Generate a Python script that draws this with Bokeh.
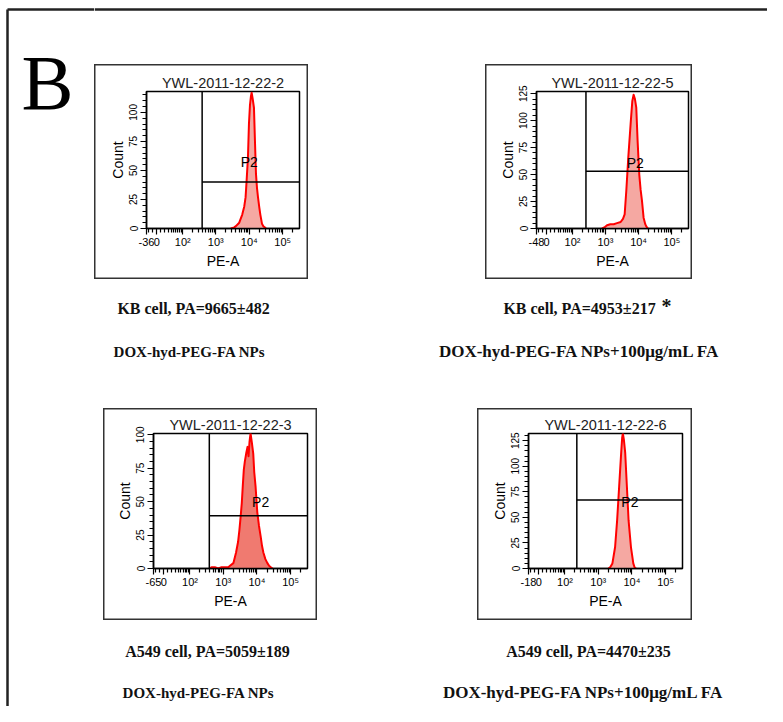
import numpy as np
from bokeh.plotting import figure
from bokeh.layouts import row, column
from bokeh.models import Span, FixedTicker, Range1d, Spacer
from bokeh.core.properties import value
from bokeh.embed import file_html
from bokeh.resources import INLINE

# ---------------- data ----------------
titles = ["YWL-2011-12-22-2", "YWL-2011-12-22-5", "YWL-2011-12-22-3", "YWL-2011-12-22-6"]
x_min_labels = [-36, -48, -65, -18]
y_max = [118, 127, 101, 132]
y_major = [[0, 25, 50, 75, 100], [0, 25, 50, 75, 100, 125],
           [0, 25, 50, 75, 100], [0, 25, 50, 75, 100, 125]]

# histograms: PE-A position (log10 units) and counts
h1_x = [3.45, 3.55, 3.60, 3.70, 3.79, 3.85, 3.89, 3.92, 3.96, 3.99, 4.02, 4.05, 4.07,
        4.10, 4.14, 4.17, 4.20, 4.23, 4.26, 4.30, 4.33, 4.38, 4.42, 4.46, 4.50]
h1_c = [0, 1, 2, 5, 12, 19, 27, 41, 61, 90, 106, 114, 117,
        112, 104, 75, 47, 35, 27, 18, 12, 4, 2, 1, 0]

h2_x = [2.90, 2.97, 3.05, 3.15, 3.25, 3.35, 3.46, 3.53, 3.58, 3.63, 3.69, 3.76, 3.81,
        3.85, 3.89, 3.93, 3.97, 4.02, 4.06, 4.10, 4.15, 4.20, 4.23, 4.28]
h2_c = [0, 1, 3, 4, 4, 5, 6, 9, 13, 35, 66, 97, 118,
        124, 120, 112, 81, 50, 36, 26, 10, 4, 2, 0]

h3_x = [2.60, 2.65, 2.75, 2.85, 2.95, 3.05, 3.15, 3.20, 3.30, 3.38, 3.44, 3.48, 3.52,
        3.55, 3.58, 3.61, 3.64, 3.68, 3.72, 3.75, 3.78, 3.81, 3.85, 3.89, 3.92, 3.96,
        4.01, 4.06, 4.11, 4.15, 4.19, 4.25, 4.31, 4.36, 4.41, 4.46]
h3_c = [0, 1, 1, 0, 1, 1, 1, 2, 4, 12, 20, 29, 40,
        49, 62, 74, 80, 86, 91, 84, 95, 101, 94, 86, 72, 61,
        42, 32, 24, 17, 12, 7, 4, 2, 1, 0]

h4_x = [3.30, 3.35, 3.42, 3.50, 3.56, 3.62, 3.68, 3.71, 3.73, 3.76, 3.80, 3.85, 3.90,
        3.97, 4.04, 4.08, 4.12]
h4_c = [0, 1, 5, 21, 47, 80, 113, 128, 132, 126, 113, 80, 47,
        21, 5, 1, 0]

hist_x = [h1_x, h2_x, h3_x, h4_x]
hist_c = [h1_c, h2_c, h3_c, h4_c]

gate_lo = [390, 260, 385, 230]      # P2 gate lower bound (PE-A)
gate_y = [40, 53, 39.5, 67]         # gate marker height (Count)
p2_x = [4.00, 3.90, 4.11, 3.94]     # gate label (log10 PE-A)
p2_y = [57, 61, 50, 65]             # gate label (Count)

cap_line1 = ["KB cell, PA=9665±482", "KB cell, PA=4953±217",
             "A549 cell, PA=5059±189", "A549 cell, PA=4470±235"]
cap_mark = ["", "*", "", ""]
cap_line2 = ["DOX-hyd-PEG-FA NPs", "DOX-hyd-PEG-FA NPs+100μg/mL FA",
             "DOX-hyd-PEG-FA NPs", "DOX-hyd-PEG-FA NPs+100μg/mL FA"]
panel_letter = "B"

# ---------------- helpers ----------------
W_T = 17.2
X_START, X_END = 0.93, 5.50


def t(v):
    return round(float(np.arcsinh(v / (2 * W_T)) / np.log(10) + np.log10(W_T)), 4)


FILLS = ["#f5a8a2", "#f5a8a2", "#f07a70", "#f5a8a2"]


def make_panel(i, w, h, ml, mr, mt, mb):
    p = figure(width=w, height=h, output_backend="svg", toolbar_location=None,
               x_range=Range1d(X_START, X_END), y_range=Range1d(0, y_max[i]),
               min_border_left=ml, min_border_right=mr, min_border_top=mt,
               min_border_bottom=mb, title=titles[i],
               styles={"box-shadow": "inset 0 0 0 1.5px #333333"})
    p.grid.visible = False
    p.background_fill_color = "white"
    p.border_fill_alpha = 0
    p.outline_line_color = "black"
    p.outline_line_width = 1.5

    p.title.text_font = "Liberation Sans"
    p.title.text_font_size = "14.5px"
    p.title.text_font_style = "normal"
    p.title.text_color = "#222222"
    p.title.align = "center"
    p.title.offset = (mr - ml) / 2
    p.title.standoff = 1

    # histogram
    p.varea(x=hist_x[i], y1=0, y2=hist_c[i], fill_color=FILLS[i], fill_alpha=1)
    p.line(hist_x[i], hist_c[i], line_color="#ff0000", line_width=2, line_join="round")

    # gate
    gx = t(gate_lo[i])
    p.add_layout(Span(location=gx, dimension="height", line_color="black", line_width=1.5))
    p.segment(x0=[gx], y0=[gate_y[i]], x1=[X_END], y1=[gate_y[i]],
              line_color="black", line_width=1.5)
    p.text(x=[p2_x[i]], y=[p2_y[i]], text=["P2"], text_font=value("Liberation Sans"),
           text_font_size="14px", text_align="center", text_baseline="middle",
           text_color="black")

    # x axis (biexponential display)
    major_vals = [0, 100, 1000, 10000, 100000]
    major_lbls = ["0", "10²", "10³", "10⁴", "10⁵"]
    ticks = [X_START] + [t(v) for v in major_vals]
    minors = []
    for v in [-20, -10, 10, 20, 30, 40, 50, 60, 70, 80, 90]:
        minors.append(t(v))
    for dec in [100, 1000, 10000]:
        for m in range(2, 10):
            minors.append(t(m * dec))
    minors.append(t(200000))
    minors = [m for m in minors if m > X_START]
    xa = p.xaxis[0]
    xa.ticker = FixedTicker(ticks=ticks, minor_ticks=minors)
    ov = {X_START: str(x_min_labels[i])}
    for v, l in zip(major_vals, major_lbls):
        ov[t(v)] = l
    xa.major_label_overrides = ov
    xa.axis_label = "PE-A"

    ya = p.yaxis[0]
    ya.ticker = FixedTicker(ticks=y_major[i], minor_ticks=list(range(0, int(y_max[i]) + 1, 5)))
    ya.axis_label = "Count"
    ya.major_label_orientation = "vertical"

    for ax in (xa, ya):
        ax.axis_line_color = "black"
        ax.axis_line_width = 1.5
        ax.major_tick_line_color = "black"
        ax.minor_tick_line_color = "black"
        ax.major_tick_line_width = 1.2
        ax.minor_tick_line_width = 1.2
        ax.major_tick_in = 0
        ax.major_tick_out = 6
        ax.minor_tick_in = 0
        ax.minor_tick_out = 4
        ax.major_label_text_font = "Liberation Sans"
        ax.major_label_text_color = "black"
        ax.axis_label_text_font = "Liberation Sans"
        ax.axis_label_text_font_style = "normal"
        ax.axis_label_text_font_size = "14px"
        ax.axis_label_text_color = "black"
    xa.major_label_text_font_size = "11px"
    xa.major_label_standoff = 1
    xa.axis_label_standoff = 2
    ya.major_label_text_font_size = "10px"
    ya.major_label_standoff = 3
    ya.axis_label_standoff = 1
    return p


def blank(w, h):
    p = figure(width=w, height=h, output_backend="svg", toolbar_location=None,
               x_range=Range1d(0, w), y_range=Range1d(h, 0),
               x_axis_location=None, y_axis_location=None, min_border=0)
    p.grid.visible = False
    p.outline_line_color = None
    p.background_fill_color = "white"
    p.border_fill_color = "white"
    return p


SERIF = value("Liberation Serif")

# left strip with frame line and panel letter
left = blank(94, 706)
left.segment(x0=[7], y0=[9], x1=[7], y1=[706], line_color="#222222", line_width=2.5)
left.segment(x0=[7], y0=[9], x1=[94], y1=[9], line_color="#222222", line_width=2.5)
left.text(x=[21], y=[82], text=[panel_letter], text_font=SERIF, text_font_size="78px",
          text_align="left", text_baseline="alphabetic", text_color="black")

top = blank(673, 64)
top.segment(x0=[0], y0=[9], x1=[673], y1=[9], line_color="#222222", line_width=2.5)

p1 = make_panel(0, 214, 215, 52, 9, 27, 51)
p2 = make_panel(1, 207, 215, 51, 4, 27, 51)
p3 = make_panel(2, 214, 212, 50, 10, 24, 51)
p4 = make_panel(3, 215, 212, 51, 10, 25, 52)


def captions(h, idx, x1, y1, x2, y2, size2):
    c = blank(673, h)
    c.text(x=x1, y=y1, text=[cap_line1[idx[0]], cap_line1[idx[1]]],
           text_font=SERIF, text_font_style="bold", text_font_size="16px",
           text_align="center", text_baseline="middle", text_color="#111111")
    for k, j in enumerate(idx):
        if cap_mark[j]:
            c.text(x=[x1[k] + 87], y=[y1[k] - 3], text=[cap_mark[j]],
                   text_font=SERIF, text_font_style="bold", text_font_size="20px",
                   text_align="center", text_baseline="middle", text_color="#111111")
        c.text(x=[x2[k]], y=[y2[k]], text=[cap_line2[j]],
               text_font=SERIF, text_font_style="bold", text_font_size=size2[k],
               text_align="center", text_baseline="middle", text_color="#111111")
    return c


cap1 = captions(129, (0, 1), [99, 485], [29, 29], [95, 485], [72, 72], ["15px", "17px"])
cap2 = captions(86, (2, 3), [113, 494], [31, 31], [104, 489], [72, 72], ["15px", "17px"])

row1 = row(p1, Spacer(width=177, height=215), p2, Spacer(width=75, height=215))
row2 = row(Spacer(width=9, height=212), p3, Spacer(width=160, height=212), p4,
           Spacer(width=75, height=212))
right = column(top, row1, cap1, row2, cap2)
layout = row(left, right)

open("out.html", "w").write(file_html(layout, INLINE))
